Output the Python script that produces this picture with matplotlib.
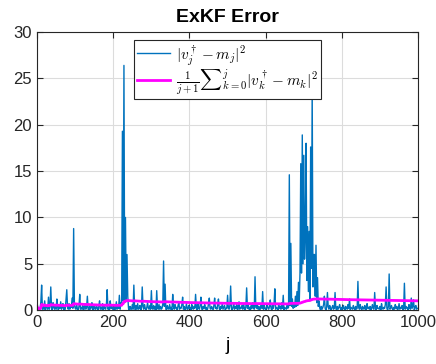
import numpy as np
import matplotlib.pyplot as plt

plt.rcParams['font.family'] = ['Liberation Sans', 'DejaVu Sans']
plt.rcParams['mathtext.fontset'] = 'cm'

# squared error |v_j - m_j|^2, every 2 steps of j
j = np.arange(0, 1001, 2)
err = np.array([float(s) for s in """
0.4 0.0 0.0 0.1 0.2 0.9 2.7 0.1 0.6 0.1
1.0 0.0 0.3 0.5 0.1 1.4 0.1 0.4 2.5 0.2
0.0 0.8 0.3 0.1 0.6 0.1 1.2 0.3 0.0 0.5
0.2 0.9 0.1 0.3 0.7 0.0 0.4 0.1 1.1 2.2
0.3 0.1 0.7 0.1 0.5 0.3 1.3 0.2 8.8 0.6
0.2 0.1 0.6 0.1 0.0 0.4 1.7 0.1 0.3 0.1
0.5 0.0 0.2 0.7 0.1 0.3 1.5 0.1 0.0 0.4
0.1 0.3 0.8 0.0 0.2 0.5 0.1 0.1 0.6 0.2
0.0 0.4 1.0 0.1 0.3 0.1 0.7 0.0 0.4 0.2
0.1 0.6 2.2 0.1 0.3 0.0 1.0 0.2 0.5 0.1
0.3 0.0 0.6 0.1 0.9 0.1 0.4 0.2 1.6 0.1
0.8 0.5 19.3 1.0 26.4 0.8 10.0 1.0 6.0 1.5
0.2 0.0 0.4 0.1 0.1 0.6 0.1 2.7 0.3 0.0
0.5 0.1 0.7 0.1 0.2 0.5 0.0 0.2 2.5 0.4
0.1 0.6 0.2 0.0 0.3 0.8 0.2 0.1 0.5 0.1
2.1 0.2 0.1 0.5 0.1 0.4 0.0 2.1 0.3 0.1
0.6 0.1 0.4 0.1 0.2 0.7 5.3 0.4 2.8 0.1
0.0 0.5 0.2 0.1 0.6 0.1 0.3 0.0 1.7 0.4
0.1 0.6 0.2 0.3 0.0 0.5 0.8 0.1 0.3 0.2
0.6 1.4 0.1 0.4 0.0 0.2 0.7 0.1 0.1 0.5
0.2 0.3 0.0 0.6 0.2 0.1 0.4 0.2 1.7 0.3
0.0 0.7 0.2 0.1 0.5 1.4 0.2 0.0 0.4 0.2
0.6 0.1 0.3 0.0 0.2 0.7 1.3 0.2 0.1 0.4
0.2 0.0 0.5 1.3 0.2 0.3 0.1 0.6 1.2 0.2
0.0 0.4 0.2 0.7 0.1 0.3 0.5 0.0 0.2 0.2
1.6 0.2 0.1 0.5 2.6 0.2 0.0 0.3 0.7 0.1
0.4 0.2 0.6 0.0 0.2 0.9 0.1 0.3 0.2 0.5
0.1 0.7 0.2 0.0 0.4 2.4 0.2 0.6 0.1 0.3
0.0 0.5 0.2 0.8 0.2 0.1 3.6 0.3 0.2 0.6
0.1 0.4 0.0 0.2 0.7 0.2 2.0 0.1 0.5 0.2
0.0 0.3 0.6 0.2 0.1 0.4 1.1 0.2 0.0 0.5
0.2 0.7 2.3 0.1 0.3 0.2 0.0 0.6 0.2 0.4
0.1 0.8 0.2 1.6 0.0 0.3 0.2 0.1 0.5 0.2
0.3 14.6 0.5 7.2 0.4 1.2 0.2 0.6 0.3 1.5
0.4 2.0 0.5 3.0 0.8 4.0 15.8 4.0 18.9 5.0
16.7 5.5 8.0 18.0 3.2 9.0 2.0 8.5 1.0 17.6
4.5 24.0 2.5 6.0 6.0 1.5 7.0 0.8 3.5 0.4
1.0 0.2 0.0 0.4 0.1 0.3 0.6 1.5 0.2 0.0
0.3 1.9 0.4 0.1 0.5 0.2 0.0 0.3 0.5 0.1
0.2 1.9 0.2 0.0 0.4 0.1 0.3 0.6 0.2 0.0
0.3 0.1 0.5 0.2 0.0 0.4 0.2 0.1 0.6 0.2
1.2 0.0 0.3 0.2 0.1 0.5 0.2 0.0 0.4 0.1
0.2 3.1 0.3 0.1 0.6 0.2 0.0 0.4 0.2 0.1
0.5 0.2 0.0 0.7 0.2 0.3 0.1 0.4 0.0 0.2
0.6 0.2 0.1 1.9 0.3 0.0 0.5 0.2 0.2 0.1
0.4 0.0 0.7 0.2 0.1 0.3 0.2 0.6 2.5 0.2
0.0 0.4 3.9 0.1 0.2 0.5 0.2 0.0 0.3 0.1
0.6 0.2 0.4 0.0 0.2 0.7 0.1 0.3 0.2 0.5
0.0 0.2 2.9 0.1 0.4 0.2 0.3 0.0 0.6 0.2
0.1 1.3 0.2 0.4 1.1 0.0 0.3 0.5 0.1 0.2
0.2
""".split()])

# running mean
avg = np.cumsum(err) / np.arange(1, len(err) + 1)

fig = plt.figure(figsize=(4.36, 3.64), dpi=100)
ax = fig.add_axes([0.085, 0.148, 0.874, 0.764])

ax.plot(j, err, color='#0072BD', lw=1.0, label=r'$|v_j^\dagger - m_j|^2$')
ax.plot(j, avg, color='#FF00FF', lw=2,
        label=r'$\frac{1}{j+1}{\sum}_{k=0}^{j}|v_k^\dagger - m_k|^2$')

ax.set_xlim(0, 1000)
ax.set_ylim(0, 30)
ax.set_xticks(np.arange(0, 1001, 200))
ax.set_yticks(np.arange(0, 31, 5))
ax.grid(True, color='#DCDCDC', lw=0.8)
ax.set_axisbelow(True)
ax.tick_params(direction='in', top=True, right=True, labelsize=12,
               colors='#262626', length=4)
for s in ax.spines.values():
    s.set_color('#262626')

ax.set_title('ExKF Error', fontsize=14, fontweight='bold', pad=7)
ax.set_xlabel('j', fontsize=14, labelpad=5)

leg = ax.legend(loc='upper center', bbox_to_anchor=(0.5, 0.97), fontsize=11,
                frameon=True, fancybox=False, edgecolor='#262626',
                borderpad=0.15, handlelength=2.2, labelspacing=0.05,
                handletextpad=0.4, borderaxespad=0)
leg.get_frame().set_linewidth(0.8)
leg.get_frame().set_alpha(1)

fig.savefig('out.png', dpi=100)
